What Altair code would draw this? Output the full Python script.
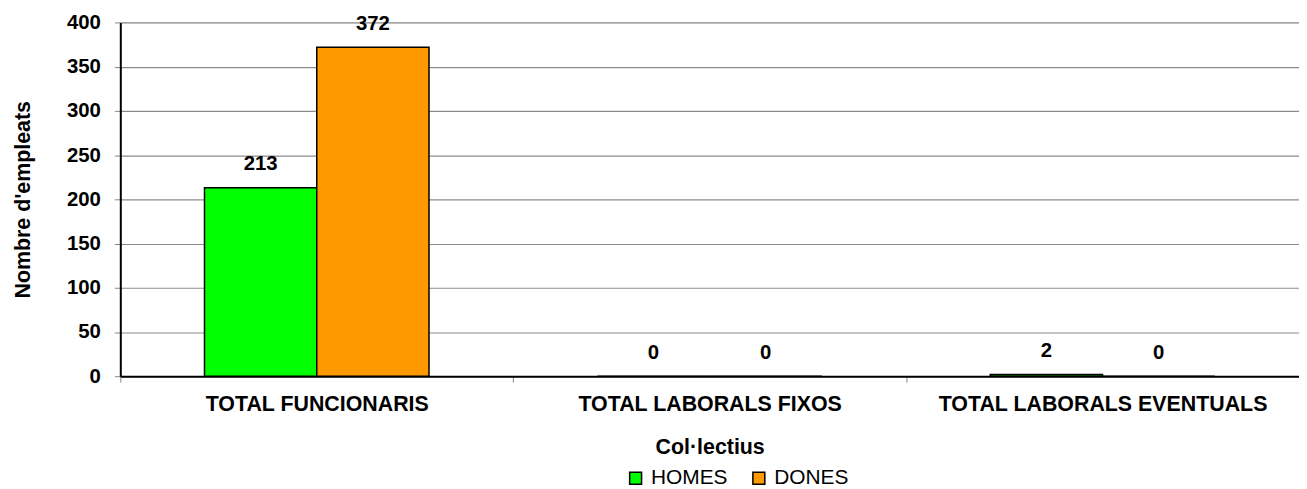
import altair as alt
import pandas as pd

categories = ["TOTAL FUNCIONARIS", "TOTAL LABORALS FIXOS", "TOTAL LABORALS EVENTUALS"]
series = ["HOMES", "DONES"]
homes = [213, 0, 2]
dones = [372, 0, 0]
colors = ["#00FF00", "#FF9900"]

rows = []
for c, h, d in zip(categories, homes, dones):
    rows.append({"cat": c, "ser": "HOMES", "val": h})
    rows.append({"cat": c, "ser": "DONES", "val": d})
df = pd.DataFrame(rows)

FONT = "Liberation Sans"
FS = 20.5
FSW = 21.5

x = alt.X("cat:N", sort=categories, title="Col·lectius",
          scale=alt.Scale(paddingInner=0, paddingOuter=0),
          axis=alt.Axis(labelAngle=0, labelFontWeight="bold", labelFontSize=FSW,
                        labelFont=FONT, labelColor="black", labelPadding=12,
                        labelLimit=500,
                        titleFont=FONT, titleFontSize=FSW, titleFontWeight="bold",
                        titleColor="black", titlePadding=21,
                        tickBand="extent", tickSize=6, tickColor="#888888",
                        domainColor="black", domainWidth=2, grid=False))
xo = alt.XOffset("ser:N", sort=series, scale=alt.Scale(paddingOuter=0.75, paddingInner=0))
y = alt.Y("val:Q", title="Nombre d'empleats",
          scale=alt.Scale(domain=[0, 400], nice=False),
          axis=alt.Axis(values=list(range(0, 401, 50)), labelFontWeight="bold",
                        labelFontSize=FS, labelFont=FONT, labelColor="black",
                        titleFont=FONT, titleFontSize=FSW, titleFontWeight="bold",
                        titleColor="black", titlePadding=32, tickSize=6,
                        tickColor="#888888", domainColor="black", domainWidth=2,
                        gridColor="#8c8c8c", gridWidth=1.2, labelPadding=14))

bars = alt.Chart(df).mark_bar(stroke="black", strokeWidth=1.5).encode(
    x=x, xOffset=xo, y=y,
    color=alt.Color("ser:N", sort=series,
                    scale=alt.Scale(domain=series, range=colors),
                    legend=alt.Legend(title=None, orient="none", legendX=508, legendY=448,
                                      direction="horizontal", symbolType="square",
                                      symbolSize=144, symbolStrokeColor="black",
                                      symbolStrokeWidth=1.5, labelFont=FONT,
                                      labelFontSize=21, labelColor="black",
                                      columnPadding=20, labelOffset=5)),
)

labels = alt.Chart(df).mark_text(dy=-23.5, fontWeight="bold", fontSize=FS, font=FONT,
                                 color="black").encode(
    x=alt.X("cat:N", sort=categories), xOffset=alt.XOffset("ser:N", sort=series),
    y=alt.Y("val:Q"), text=alt.Text("val:Q"))

chart = (bars + labels).properties(
    width=1186, height=356,
    autosize=alt.AutoSizeParams(type="none"),
    padding={"left": 113, "top": 13, "right": 0, "bottom": 112},
).configure_view(stroke=None).configure(background="white")

chart.save("out.html", embed_options={"renderer": "svg", "actions": False})
